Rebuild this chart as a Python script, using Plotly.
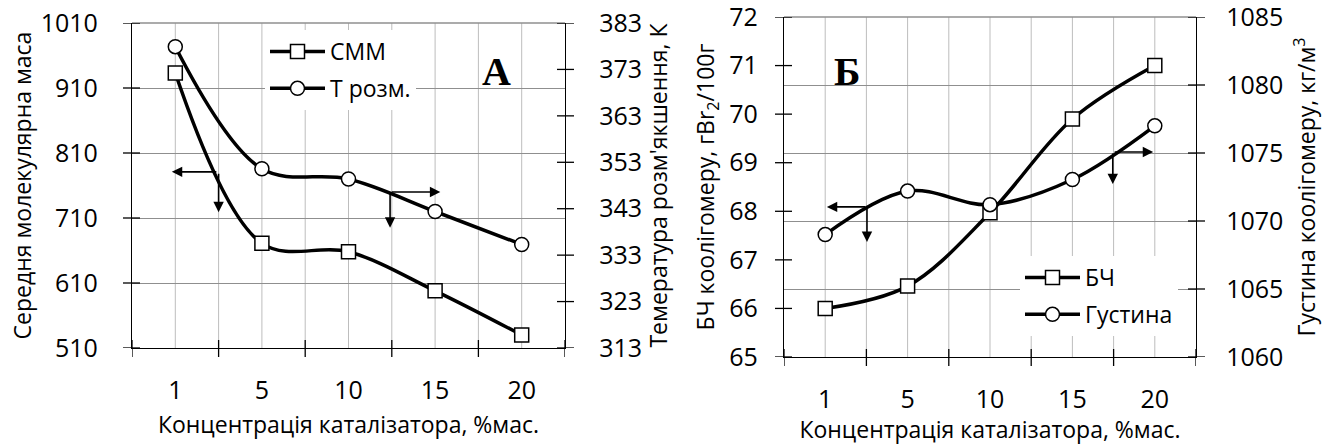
import plotly.graph_objects as go

# ---------------- data ----------------
categories = ['1', '5', '10', '15', '20']          # концентрація каталізатора, %мас.
smm = [933, 671, 658, 598, 530]                     # середня молекулярна маса
t_rozm = [377.9, 351.6, 349.4, 342.4, 335.3]        # температура розм'якшення, K
bch = [66.0, 66.46, 67.97, 69.9, 71.0]              # БЧ, гBr2/100г
density = [1069.0, 1072.2, 1071.2, 1073.05, 1077.0] # густина, кг/м3

L_y1 = [510, 1010, 100]   # range + step, left chart primary axis
L_y2 = [313, 383, 10]     # left chart secondary axis
R_y1 = [65, 72, 1]        # right chart primary axis
R_y2 = [1060, 1085, 5]    # right chart secondary axis

xs = list(range(len(categories)))
bounds = [i - 0.5 for i in range(len(categories) + 1)]
half_steps = sorted(xs + bounds)

FONT = 'Open Sans'
FS_TICK = 25
FS_TITLE = 23
FS_LEG = 23
GRID_H = '#8f8f8f'
GRID_V = '#bdbdbd'

W, H = 1330, 445
L_px = (132, 565, 23, 348)   # plot area left, right, top, bottom (px)
R_px = (784, 1196, 17, 357)
L_dom_x = [L_px[0] / W, L_px[1] / W]
L_dom_y = [1 - L_px[3] / H, 1 - L_px[2] / H]
R_dom_x = [R_px[0] / W, R_px[1] / W]
R_dom_y = [1 - R_px[3] / H, 1 - R_px[2] / H]

line_style = dict(color='black', width=3.5, shape='spline', smoothing=1)
sq_marker = dict(symbol='square', size=14, color='white', line=dict(color='black', width=1.5))
ci_marker = dict(symbol='circle', size=14, color='white', line=dict(color='black', width=1.5))

fig = go.Figure()
fig.add_trace(go.Scatter(x=xs, y=smm, name='СММ', mode='lines+markers', line=line_style,
                         marker=sq_marker, xaxis='x', yaxis='y', legend='legend', legendgroup='a'))
fig.add_trace(go.Scatter(x=xs, y=t_rozm, name='Т розм.', mode='lines+markers', line=line_style,
                         marker=ci_marker, xaxis='x', yaxis='y2', legend='legend', legendgroup='b'))
fig.add_trace(go.Scatter(x=xs, y=bch, name='БЧ', mode='lines+markers', line=line_style,
                         marker=sq_marker, xaxis='x2', yaxis='y3', legend='legend2', legendgroup='c'))
fig.add_trace(go.Scatter(x=xs, y=density, name='Густина', mode='lines+markers', line=line_style,
                         marker=ci_marker, xaxis='x2', yaxis='y4', legend='legend2', legendgroup='d'))

tickfont = dict(family=FONT, size=FS_TICK, color='black')
titlefont = dict(family=FONT, size=FS_TITLE, color='black')
XR = [-0.5, len(categories) - 0.5]


def x_axis(domain, anchor, title):
    return dict(domain=domain, anchor=anchor, range=XR,
                tickmode='array', tickvals=xs, ticktext=categories,
                ticks='', ticklabelstandoff=20, tickfont=tickfont,
                showgrid=False,
                showline=True, linecolor='black', linewidth=1.3, zeroline=False,
                automargin=False, title=dict(text=title, font=titlefont, standoff=11))


def y_axis(domain, anchor, spec, title, side='left', overlaying=None, grid=False,
           standoff=10, label_gap=20):
    d = dict(anchor=anchor, range=spec[:2], tickmode='linear', tick0=spec[0], dtick=spec[2],
             ticks='', tickfont=tickfont, side=side, ticklabelstandoff=label_gap,
             ticklabeloverflow='allow',
             showgrid=grid, gridcolor=GRID_H, gridwidth=1.3,
             showline=True, linecolor='black', linewidth=1.3, zeroline=False,
             automargin=False, title=dict(text=title, font=titlefont, standoff=standoff))
    if overlaying:
        d['overlaying'] = overlaying
    else:
        d['domain'] = domain
    return d


x_title = 'Концентрація каталізатора, %мас.'

legend_common = dict(xanchor='left', yanchor='top', bgcolor='white',
                     font=dict(family=FONT, size=FS_LEG, color='black'), borderwidth=0,
                     itemwidth=55, tracegroupgap=4)

fig.update_layout(
    width=W, height=H,
    margin=dict(l=0, r=0, t=0, b=0),
    paper_bgcolor='white', plot_bgcolor='white',
    font=dict(family=FONT, size=FS_TICK, color='black'),
    xaxis=x_axis(L_dom_x, 'y', x_title),
    xaxis2=x_axis(R_dom_x, 'y3', x_title),
    yaxis=y_axis(L_dom_y, 'x', L_y1, 'Середня молекулярна маса', grid=True,
                 standoff=2, label_gap=28),
    yaxis2=y_axis(None, 'x', L_y2, "Темература розм'якшення, К", side='right', overlaying='y',
                  standoff=9, label_gap=28),
    yaxis3=y_axis(R_dom_y, 'x2', R_y1, 'БЧ коолігомеру, гBr<sub>2</sub>/100г',
                  standoff=8, label_gap=20),
    yaxis4=y_axis(None, 'x2', R_y2, 'Густина коолігомеру, кг/м<sup>3</sup>', side='right',
                  overlaying='y3', grid=True, standoff=16, label_gap=24),
    legend=dict(x=265 / W, y=1 - 30 / H, **legend_common),
    legend2=dict(x=1020 / W, y=1 - 256 / H, **legend_common),
    showlegend=True,
)


def ticks_range(spec):
    n = int(round((spec[1] - spec[0]) / spec[2]))
    return [spec[0] + i * spec[2] for i in range(n + 1)]


TICK_OUT, TICK_IN = 9, 8
# gridlines and crossing tick marks (Excel style), placed through the axes
for xr, y_main, y_sec, spec_main, spec_sec, px in [
        ('x', 'y', 'y2', L_y1, L_y2, L_px),
        ('x2', 'y3', 'y4', R_y1, R_y2, R_px)]:
    pw = px[1] - px[0]
    ph = px[3] - px[2]
    # vertical gridlines at category centres and boundaries
    for v in half_steps[1:-1]:
        fig.add_shape(type='line', xref=xr, yref=f'{y_main} domain', x0=v, x1=v, y0=0, y1=1,
                      line=dict(color=GRID_V, width=1), layer='below')
    # top gridline (end of the value range)
    fig.add_shape(type='line', xref=f'{xr} domain', yref=f'{y_main} domain', x0=0, x1=1,
                  y0=1, y1=1, line=dict(color=GRID_H, width=1.3), layer='below')
    # x tick marks at category boundaries, crossing the axis
    for b in bounds:
        fig.add_shape(type='line', xref=xr, yref=f'{y_main} domain',
                      x0=b, x1=b, y0=-TICK_OUT / ph, y1=TICK_IN / ph,
                      line=dict(color='black', width=1.3))
    # y tick marks crossing the left axis
    for t in ticks_range(spec_main):
        fig.add_shape(type='line', xref=f'{xr} domain', yref=y_main,
                      x0=-TICK_OUT / pw, x1=TICK_IN / pw, y0=t, y1=t,
                      line=dict(color='black', width=1.3))
    # y tick marks crossing the right axis
    for t in ticks_range(spec_sec):
        fig.add_shape(type='line', xref=f'{xr} domain', yref=y_sec,
                      x0=1 - TICK_IN / pw, x1=1 + TICK_OUT / pw, y0=t, y1=t,
                      line=dict(color='black', width=1.3))

# arrows pointing to the relevant axes: (xref, yref, head_x, head_y, ax, ay)
arrows = [
    ('x', 'y', -0.04, 781, 46, 0),
    ('x', 'y', 0.5, 719, 0, -40),
    ('x', 'y', 3.06, 750, -50, 0),
    ('x', 'y', 2.48, 695, 0, -36),
    ('x2', 'y3', 0.02, 68.09, 40, 0),
    ('x2', 'y3', 0.507, 67.37, 0, -35),
    ('x2', 'y3', 3.98, 69.22, -40, 0),
    ('x2', 'y3', 3.49, 68.56, 0, -32),
]
for xr, yr, hx, hy, ax, ay in arrows:
    fig.add_annotation(xref=xr, yref=yr, x=hx, y=hy, ax=ax, ay=ay, axref='pixel', ayref='pixel',
                       text='', showarrow=True, arrowhead=2, arrowsize=1.3, arrowwidth=1.6,
                       arrowcolor='black')

fig.add_annotation(xref='x', yref='y', x=3.71, y=935, text='<b>А</b>', showarrow=False,
                   font=dict(family='Liberation Serif', size=40, color='black'))
fig.add_annotation(xref='x2', yref='y3', x=0.265, y=70.87, text='<b>Б</b>', showarrow=False,
                   font=dict(family='Liberation Serif', size=40, color='black'))

fig.write_html('out.html')
